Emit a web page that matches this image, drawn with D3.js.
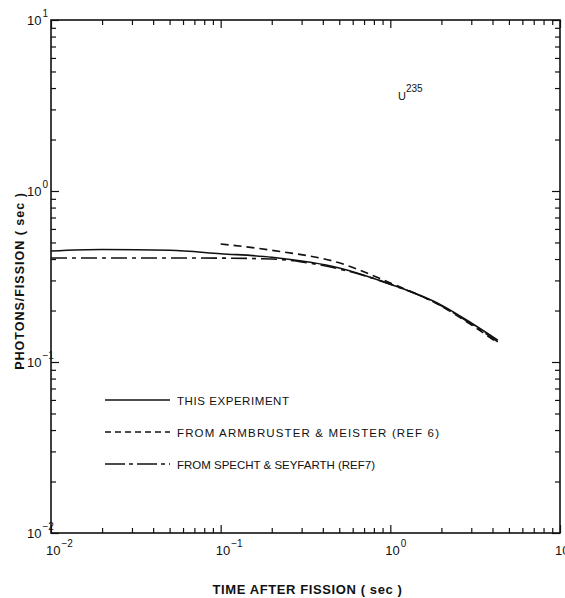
<!DOCTYPE html>
<html>
<head>
<style>
  body { margin: 0; background: #fff; }
  text { font-family: "Liberation Sans", "DejaVu Sans", sans-serif; fill: #111; }
</style>
</head>
<body>
<svg width="565" height="598"></svg>
<script src="https://d3js.org/d3.v7.min.js"></script>
<script>
// data
var timeExp = [0.01, 0.02, 0.05, 0.1, 0.2, 0.5, 1, 2, 3, 4.3];
var photonsExp = [0.446, 0.455, 0.45, 0.43, 0.41, 0.355, 0.285, 0.215, 0.169, 0.134];

var timeArm = [0.1, 0.2, 0.5, 1, 2, 3, 4.3];
var photonsArm = [0.49, 0.45, 0.38, 0.29, 0.212, 0.165, 0.129];

var timeSpe = [0.01, 0.05, 0.1, 0.2, 0.3, 0.5, 1, 2, 3, 4.3];
var photonsSpe = [0.406, 0.406, 0.405, 0.40, 0.385, 0.35, 0.285, 0.213, 0.167, 0.131];

var legendLabels = ["THIS EXPERIMENT", "FROM ARMBRUSTER & MEISTER (REF 6)", "FROM SPECHT & SEYFARTH (REF7)"];
var decadeExps = [-2, -1, 0, 1];

var svg = d3.select("svg");
// note: "top" is taken by window.top, so use other names
var plotL = 51, plotR = 560, plotT = 20, plotB = 533;

var x = d3.scaleLog().domain([1e-2, 1e1]).range([plotL, plotR]);
var y = d3.scaleLog().domain([1e-2, 1e1]).range([plotB, plotT]);

// tick values: majors at decades, minors 2..9
var majors = decadeExps.map(function (e) { return Math.pow(10, e); });
var minors = [];
decadeExps.slice(0, 3).forEach(function (e) {
    for (var k = 2; k <= 9; k++) minors.push(k * Math.pow(10, e));
});

function styleAxis(g) {
    g.selectAll("text").remove();
    g.select(".domain").remove();
    g.selectAll("line").attr("stroke", "#111").attr("stroke-width", 1.2);
}

[[minors, 5], [majors, 8]].forEach(function (p) {
    svg.append("g").attr("transform", "translate(0," + plotB + ")")
        .call(d3.axisBottom(x).tickValues(p[0]).tickSize(-p[1])).call(styleAxis);
    svg.append("g").attr("transform", "translate(0," + plotT + ")")
        .call(d3.axisTop(x).tickValues(p[0]).tickSize(-p[1])).call(styleAxis);
    svg.append("g").attr("transform", "translate(" + plotL + ",0)")
        .call(d3.axisLeft(y).tickValues(p[0]).tickSize(-p[1])).call(styleAxis);
    svg.append("g").attr("transform", "translate(" + plotR + ",0)")
        .call(d3.axisRight(y).tickValues(p[0]).tickSize(-p[1])).call(styleAxis);
});

svg.append("rect")
    .attr("x", plotL).attr("y", plotT)
    .attr("width", plotR - plotL).attr("height", plotB - plotT)
    .attr("fill", "none").attr("stroke", "#111").attr("stroke-width", 1.6);

// tick labels, 10 with superscript exponent
function powLabel(sel, e) {
    sel.append("tspan").text("10");
    sel.append("tspan").attr("dy", "-0.8em").attr("dx", "1").attr("font-size", "10px")
        .text(e < 0 ? "\u2212" + (-e) : e);
}

decadeExps.forEach(function (e) {
    var v = Math.pow(10, e);
    svg.append("text")
        .attr("x", x(v) - 5).attr("y", plotB + 22)
        .attr("font-size", "13px")
        .call(powLabel, e);
    svg.append("text")
        .attr("x", plotL - 24).attr("y", y(v) + 5)
        .attr("font-size", "13px")
        .call(powLabel, e);
});

// axis titles
svg.append("text")
    .attr("x", (plotL + plotR) / 2 + 2).attr("y", 594)
    .attr("text-anchor", "middle")
    .attr("font-size", "13px").attr("font-weight", "bold")
    .attr("letter-spacing", "0.6px")
    .text("TIME AFTER FISSION  ( sec )");

svg.append("text")
    .attr("transform", "translate(24,281) rotate(-90)")
    .attr("text-anchor", "middle")
    .attr("font-size", "12.5px").attr("font-weight", "bold")
    .attr("letter-spacing", "1px")
    .text("PHOTONS/FISSION  ( sec )");

var u = svg.append("text").attr("x", 398).attr("y", 100).attr("font-size", "11px");
u.append("tspan").text("U");
u.append("tspan").attr("dy", "-0.8em").attr("font-size", "10px").text("235");

// curves
var line = d3.line()
    .x(function (d) { return x(d[0]); })
    .y(function (d) { return y(d[1]); })
    .curve(d3.curveMonotoneX);

var series = [
    { t: timeExp, v: photonsExp, dash: null },
    { t: timeArm, v: photonsArm, dash: "8,5" },
    { t: timeSpe, v: photonsSpe, dash: "16,5,4,5" }
];

series.forEach(function (s) {
    svg.append("path")
        .datum(d3.zip(s.t, s.v))
        .attr("fill", "none")
        .attr("stroke", "#111")
        .attr("stroke-width", 1.6)
        .attr("stroke-dasharray", s.dash)
        .attr("d", line);
});

// legend
var legendY = [400, 432, 464];
var legendW = [112, 262, 198];
series.forEach(function (s, i) {
    svg.append("line")
        .attr("x1", 105).attr("x2", 170)
        .attr("y1", legendY[i]).attr("y2", legendY[i])
        .attr("stroke", "#111").attr("stroke-width", 1.4)
        .attr("stroke-dasharray", i === 2 ? "20,4,4,4" : (i === 1 ? "6,4" : null));
    svg.append("text")
        .attr("x", 177).attr("y", legendY[i] + 4.5)
        .attr("font-size", "11.5px")
        .attr("textLength", legendW[i])
        .attr("lengthAdjust", "spacing")
        .text(legendLabels[i]);
});
</script>
</body>
</html>
